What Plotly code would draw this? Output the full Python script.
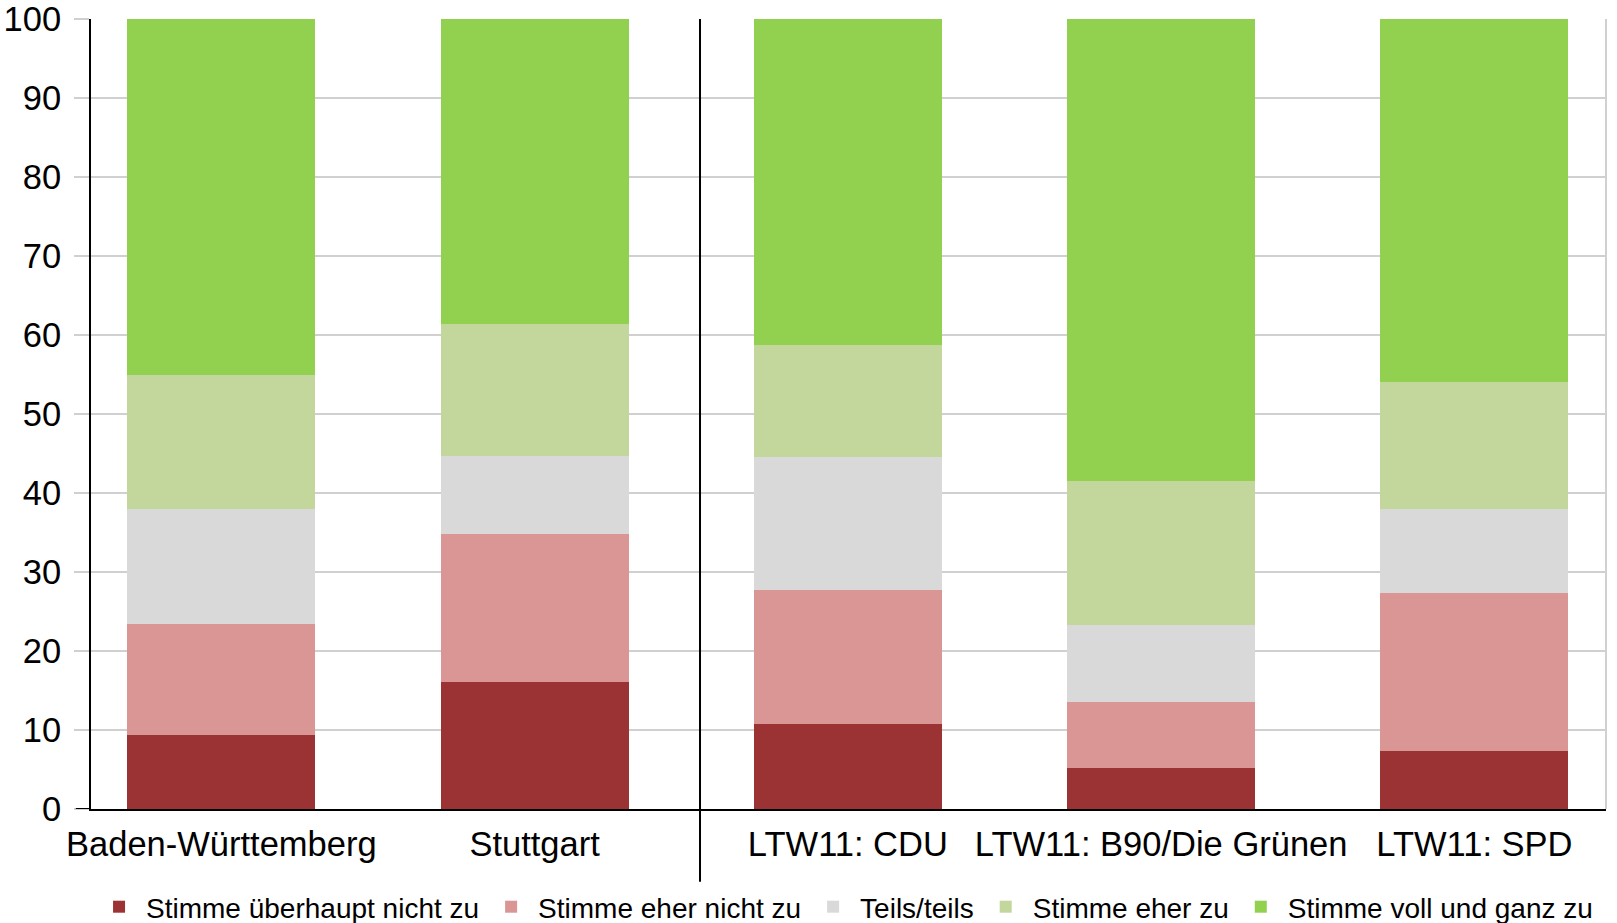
import plotly.graph_objects as go

categories = ["Baden-Württemberg", "Stuttgart", "LTW11: CDU", "LTW11: B90/Die Grünen", "LTW11: SPD"]
series_names = ["Stimme überhaupt nicht zu", "Stimme eher nicht zu", "Teils/teils",
                "Stimme eher zu", "Stimme voll und ganz zu"]
ueberhaupt_nicht = [9.4, 16.1, 10.8, 5.2, 7.4]
eher_nicht = [14.0, 18.7, 16.9, 8.4, 20.0]
teils = [14.6, 9.9, 16.8, 9.7, 10.6]
eher_zu = [17.0, 16.7, 14.2, 18.2, 16.0]
voll_zu = [45.0, 38.6, 41.3, 58.5, 46.0]
colors = ["#9B3335", "#D99694", "#D9D9D9", "#C3D69B", "#92D050"]
y_ticks = [0, 10, 20, 30, 40, 50, 60, 70, 80, 90, 100]

FONT = "Liberation Sans, Arial, sans-serif"
fig = go.Figure()
for name, vals, col in zip(series_names, [ueberhaupt_nicht, eher_nicht, teils, eher_zu, voll_zu], colors):
    fig.add_trace(go.Bar(x=categories, y=vals, name=name, marker=dict(color=col, line=dict(width=0))))

fig.update_layout(
    barmode="stack", bargap=0.4,
    width=1617, height=923,
    margin=dict(l=91, r=11, t=19, b=114),
    paper_bgcolor="white", plot_bgcolor="white",
    font=dict(family=FONT, color="black"),
    showlegend=True,
    legend=dict(orientation="h", x=0.5226, xanchor="center", xref="container",
                y=(923 - 907) / 923, yanchor="middle", yref="container",
                font=dict(size=28, family=FONT), traceorder="normal", itemwidth=44,
                tracegroupgap=0),
)
fig.update_xaxes(range=[-0.416, 4.42], showgrid=False, ticks="", tickfont=dict(size=34.5),
                 showline=True, linecolor="black", linewidth=2, ticklabelstandoff=4,
                 automargin=False)
fig.update_yaxes(range=[0, 100], tickvals=y_ticks, tickfont=dict(size=34.5), showgrid=True,
                 gridcolor="#D0D0D0", gridwidth=2, ticks="outside", ticklen=15,
                 tickcolor="#D0D0D0", tickwidth=2, showline=True, linecolor="black",
                 linewidth=2, zeroline=False, ticklabelstandoff=6, automargin=False)
# separator between regions and party groups
fig.add_shape(type="line", xref="x", yref="paper", x0=1.528, x1=1.528, y0=-0.092, y1=1,
              line=dict(color="black", width=2))
# light right border
fig.add_shape(type="line", xref="paper", yref="paper", x0=1, x1=1, y0=0, y1=1,
              line=dict(color="#D0D0D0", width=2))
# baseline tick extending left of the y axis
fig.add_shape(type="line", xref="paper", yref="y", x0=-0.01, x1=0, y0=0, y1=0,
              line=dict(color="black", width=2))
fig.write_html("out.html", config={"displayModeBar": False},
               post_script="document.body.style.margin='0';document.body.style.overflow='hidden';")
